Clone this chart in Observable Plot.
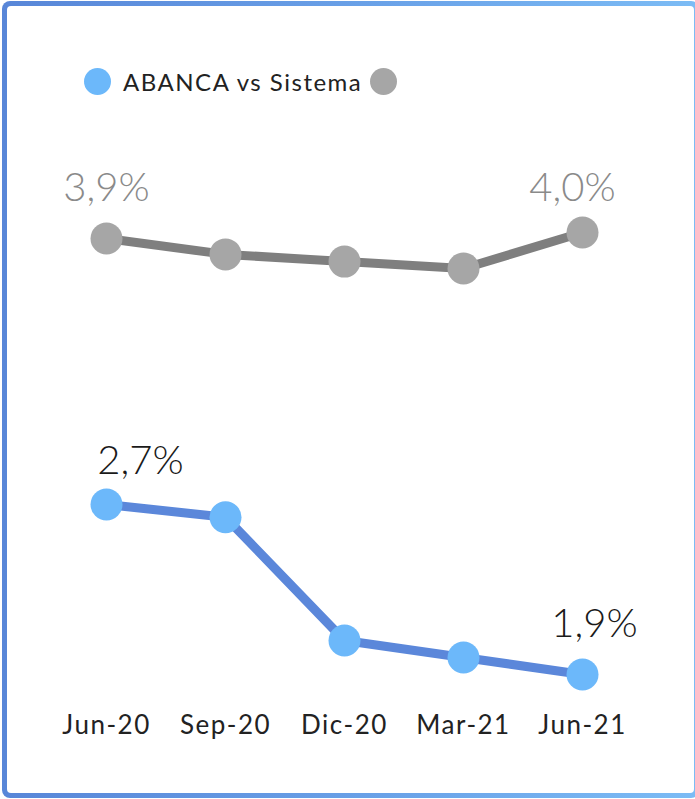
<!DOCTYPE html>
<html>
<head>
<meta charset="utf-8">
<script src="https://cdn.jsdelivr.net/npm/d3@7"></script>
<script src="https://cdn.jsdelivr.net/npm/@observablehq/plot@0.6"></script>
<style>
  html, body { margin: 0; padding: 0; width: 695px; height: 799px; overflow: hidden; background: #fff; }
  #frame {
    position: absolute; left: 2px; top: 1px; width: 697px; height: 797px; box-sizing: border-box;
    padding: 5px; border-radius: 8px;
    background: linear-gradient(90deg, #5886d8 0%, #6aa2e8 55%, #7cbcf5 100%);
  }
  #inner { width: 100%; height: 100%; background: #fff; border-radius: 4px; }
  #legend {
    position: absolute; left: 84px; top: 67px; display: flex; align-items: center;
    font-family: Lato, "Open Sans", sans-serif; font-size: 24px; font-weight: 400; letter-spacing: 1.5px; color: #222;
  }
  .sw { width: 27px; height: 27px; border-radius: 50%; display: inline-block; }
  #top, #bottom { position: absolute; left: 0; }
  #top { top: 140px; }
  #bottom { top: 420px; }
  svg { overflow: visible; }
</style>
</head>
<body>
<div id="frame"><div id="inner"></div></div>
<div id="legend">
  <span class="sw" style="background:#6cb8fa;margin-right:12px"></span>
  <span id="legtext">ABANCA vs Sistema</span>
  <span class="sw" style="background:#a6a6a6;margin-left:8px"></span>
</div>
<div id="top"></div>
<div id="bottom"></div>
<script>
const periods = ["Jun-20", "Sep-20", "Dic-20", "Mar-21", "Jun-21"];
const sistema = [3.94, 3.887, 3.863, 3.84, 3.96];
const abanca = [2.7, 2.64, 2.06, 1.98, 1.9];
const seriesNames = ["ABANCA", "Sistema"];

const fmt = v => v.toFixed(1).replace(".", ",") + "%";
const sisData = periods.map((p, i) => ({period: p, value: sistema[i], i}));
const abaData = periods.map((p, i) => ({period: p, value: abanca[i], i}));
const last = periods.length - 1;

const font = "Lato, 'Open Sans', sans-serif";

function labelMark(data, idx, dx, dy, fill) {
  return Plot.text(data.filter(d => d.i === idx), {
    x: "period", y: "value", text: d => fmt(d.value),
    dx, dy, lineAnchor: "bottom", fill, fontSize: 40, fontWeight: 300,
    fontFamily: font
  });
}

const topPlot = Plot.plot({
  width: 695, height: 160,
  marginLeft: 106, marginRight: 113, marginTop: 80, marginBottom: 20,
  x: {type: "point", domain: periods, padding: 0, axis: null},
  y: {domain: [3.80, 4.00], axis: null},
  style: {fontFamily: font, background: "transparent"},
  marks: [
    Plot.line(sisData, {x: "period", y: "value", stroke: "#7f7f7f", strokeWidth: 9}),
    Plot.dot(sisData, {x: "period", y: "value", r: 16, fill: "#a6a6a6", stroke: "none"}),
    labelMark(sisData, 0, 0, -38, "#8a8a8a"),
    labelMark(sisData, last, -10, -32, "#8a8a8a")
  ]
});
document.getElementById("top").appendChild(topPlot);

const bottomPlot = Plot.plot({
  width: 695, height: 340,
  marginLeft: 106, marginRight: 113, marginTop: 62.75, marginBottom: 64.75,
  x: {type: "point", domain: periods, padding: 0},
  y: {domain: [1.8, 2.8], axis: null},
  style: {fontFamily: font, background: "transparent"},
  marks: [
    Plot.axisX({tickSize: 0, tickPadding: 20, fontSize: 26, fontWeight: 400, fill: "#222", label: null}),
    Plot.line(abaData, {x: "period", y: "value", stroke: "#5b87da", strokeWidth: 9}),
    Plot.dot(abaData, {x: "period", y: "value", r: 16, fill: "#6cb8fa", stroke: "none"}),
    labelMark(abaData, 0, 34, -31, "#1a1a1a"),
    labelMark(abaData, last, 12, -38, "#1a1a1a")
  ]
});
bottomPlot.querySelectorAll("g[aria-label='x-axis tick label'] text").forEach(t => {
  t.style.letterSpacing = "1.5px";
});
document.getElementById("bottom").appendChild(bottomPlot);
</script>
</body>
</html>
